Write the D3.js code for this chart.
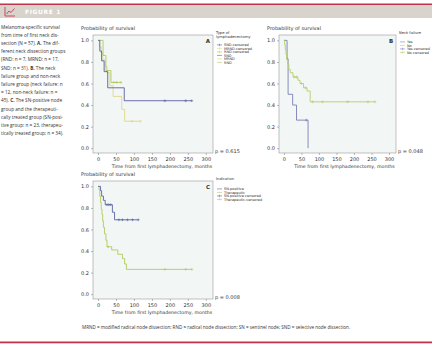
<!DOCTYPE html>
<html lang="en">
<head>
  <meta charset="UTF-8">
  <title>Figure 1</title>
  <script src="https://cdn.jsdelivr.net/npm/d3@7"></script>
  <style>
    body { margin: 0; background: #fff; }
    svg { display: block; }
    text { font-family: 'DejaVu Sans', sans-serif; }
    .cap { font-family: 'Open Sans', sans-serif; fill: #333; }
  </style>
</head>
<body>
<div id="app"></div>
<script>
  // axis ticks
  const xTicks = [0, 50, 100, 150, 200, 250, 300];
  const yTicks = [0, 0.2, 0.4, 0.6, 0.8, 1.0];

  // panel A - type of lymphadenectomy
  const sndSteps = [[0, 1], [5, 0.9], [10, 0.81], [17, 0.71], [27, 0.56], [73, 0.44]];
  const sndEnd = 261;
  const sndCensored = [186, 244, 261];
  const mrndSteps = [[0, 1], [4, 0.94], [9, 0.88], [13, 0.82], [20, 0.76], [25, 0.7], [33, 0.58], [42, 0.48], [66, 0.36], [74, 0.25]];
  const mrndEnd = 118;
  const mrndCensored = [95, 118];
  const rndSteps = [[0, 1], [14, 0.86], [22, 0.72], [36, 0.61]];
  const rndEnd = 64;
  const rndCensored = [44, 52, 64];

  // panel B - neck failure
  const yesSteps = [[0, 1], [9, 0.83], [12, 0.5], [25, 0.4], [36, 0.26], [69, 0]];
  const yesEnd = 69;
  const yesCensored = [64];
  const noSteps = [[0, 1], [2, 0.96], [4, 0.91], [6, 0.87], [8, 0.82], [11, 0.78], [14, 0.73], [18, 0.7], [26, 0.66], [40, 0.63], [46, 0.6], [56, 0.56], [66, 0.53], [75, 0.43]];
  const noEnd = 260;
  const noCensored = [30, 36, 50, 62, 82, 110, 182, 240, 260];

  // panel C - indication
  const snSteps = [[0, 1], [7, 0.96], [10, 0.91], [15, 0.87], [20, 0.83], [40, 0.76], [46, 0.69]];
  const snEnd = 112;
  const snCensored = [25, 30, 35, 58, 68, 82, 96, 112];
  const therSteps = [[0, 1], [3, 0.97], [5, 0.91], [7, 0.85], [9, 0.79], [11, 0.74], [13, 0.68], [15, 0.62], [18, 0.56], [22, 0.5], [25, 0.44], [38, 0.41], [55, 0.37], [68, 0.33], [74, 0.28], [79, 0.23]];
  const therEnd = 261;
  const therCensored = [28, 186, 244, 261];

  const captionLines = [
    'Melanoma-specific survival',
    'from time of first neck dis-',
    'section (N = 57). <b>A.</b> The dif-',
    'ferent neck dissection groups',
    '(RND: n = 7, MRND: n = 17,',
    'SND: n = 31). <b>B.</b> The neck',
    'failure group and non-neck',
    'failure group (neck failure: n',
    '= 12, non-neck failure: n =',
    '45). <b>C.</b> The SN-positive node',
    'group and the therapeuti-',
    'cally treated group (SN-posi-',
    'tive group: n = 23, therapeu-',
    'tically treated group; n = 34).'
  ];

  const W = 440, H = 346;
  const svg = d3.select('#app').append('svg').attr('width', W).attr('height', H);

  // header band
  svg.append('rect').attr('x', 0).attr('y', 5).attr('width', 432).attr('height', 13).attr('fill', '#d8d3cb');
  svg.append('rect').attr('x', 0).attr('y', 3.5).attr('width', 432).attr('height', 1.5).attr('fill', '#c0344c');
  const icon = svg.append('g').attr('transform', 'translate(5,7)');
  icon.append('path').attr('d', 'M0,0 V9 H10').attr('fill', 'none').attr('stroke', '#c84a62').attr('stroke-width', 1);
  icon.append('path').attr('d', 'M1.5,7 L4,4 L6,5.5 L9.5,1.5').attr('fill', 'none').attr('stroke', '#c84a62').attr('stroke-width', 1);
  svg.append('text').attr('x', 25).attr('y', 14).attr('font-size', 6).attr('font-weight', 'bold')
    .attr('letter-spacing', 0.6).attr('fill', '#fff').text('FIGURE 1');

  // bottom rule
  svg.append('rect').attr('x', 0).attr('y', 341.5).attr('width', 432).attr('height', 1.8).attr('fill', '#c0344c');

  // caption
  captionLines.forEach((l, i) => {
    const t = svg.append('text').attr('class', 'cap').attr('x', 1).attr('y', 28.5 + i * 8.2).attr('font-size', 4.7);
    l.split(/(<b>.*?<\/b>)/).forEach(part => {
      if (!part) return;
      const bold = part.startsWith('<b>');
      t.append('tspan').attr('font-weight', bold ? 'bold' : null).text(part.replace(/<\/?b>/g, ''));
    });
  });

  svg.append('text').attr('class', 'cap').attr('x', 82).attr('y', 329).attr('font-size', 4.6)
    .text('MRND = modified radical node dissection; RND = radical node dissection; SN = sentinel node; SND = selective node dissection.');

  function survAt(steps, t) {
    let s = 1;
    steps.forEach(d => { if (d[0] <= t) s = d[1]; });
    return s;
  }

  function panel(opt) {
    const x = d3.scaleLinear().domain([-14, 320]).range([opt.left, opt.right]);
    const y = d3.scaleLinear().domain([-0.045, 1.05]).range([opt.bottom, opt.top]);
    const g = svg.append('g');

    g.append('rect').attr('x', opt.left).attr('y', opt.top)
      .attr('width', opt.right - opt.left).attr('height', opt.bottom - opt.top)
      .attr('fill', '#f2f6f5');

    const clip = 'clip' + opt.letter;
    g.append('clipPath').attr('id', clip).append('rect')
      .attr('x', opt.left).attr('y', opt.top).attr('width', opt.right - opt.left).attr('height', opt.bottom - opt.top);

    const line = d3.line().x(d => x(d[0])).y(d => y(d[1])).curve(d3.curveStepAfter);
    const plot = g.append('g').attr('clip-path', `url(#${clip})`);
    opt.series.forEach(s => {
      const pts = s.steps.concat([[s.end, s.steps[s.steps.length - 1][1]]]);
      plot.append('path').attr('d', line(pts)).attr('fill', 'none')
        .attr('stroke', s.color).attr('stroke-width', 0.9);
      s.censored.forEach(c => {
        const cx = x(c), cy = y(survAt(s.steps, c));
        plot.append('path').attr('d', `M${cx - 1.4},${cy}H${cx + 1.4}M${cx},${cy - 1.4}V${cy + 1.4}`)
          .attr('stroke', s.color).attr('stroke-width', 0.6);
      });
    });

    g.append('rect').attr('x', opt.left).attr('y', opt.top)
      .attr('width', opt.right - opt.left).attr('height', opt.bottom - opt.top)
      .attr('fill', 'none').attr('stroke', '#9a9a9a').attr('stroke-width', 0.6);

    const xAxis = g.append('g').attr('transform', `translate(0,${opt.bottom})`)
      .call(d3.axisBottom(x).tickValues(xTicks).tickSize(2).tickPadding(2).tickFormat(d3.format('d')));
    const yAxis = g.append('g').attr('transform', `translate(${opt.left},0)`)
      .call(d3.axisLeft(y).tickValues(yTicks).tickSize(2).tickPadding(2).tickFormat(d3.format('.1f')));
    [xAxis, yAxis].forEach(a => {
      a.select('.domain').remove();
      a.selectAll('line').attr('stroke', '#777').attr('stroke-width', 0.5);
      a.selectAll('text').attr('font-size', 5).attr('fill', '#333').attr('font-family', "'DejaVu Sans', sans-serif");
    });

    g.append('text').attr('x', opt.left - 12).attr('y', opt.top - 5).attr('font-size', 5).attr('fill', '#333')
      .text('Probability of survival');
    g.append('text').attr('x', (opt.left + opt.right) / 2 + opt.titleShift).attr('y', opt.bottom + 15).attr('text-anchor', 'middle')
      .attr('font-size', 4.7).attr('fill', '#333').text('Time from first lymphadenectomy, months');
    g.append('text').attr('x', opt.right - 5).attr('y', opt.top + 8).attr('font-size', 5.5).attr('font-weight', 'bold')
      .attr('text-anchor', 'middle').attr('fill', '#333').text(opt.letter);
    g.append('text').attr('x', opt.right + 2).attr('y', opt.bottom).attr('font-size', 5).attr('fill', '#333')
      .text(opt.p);

    // legend
    const lg = g.append('g').attr('transform', `translate(${opt.right + 3},${opt.top})`);
    opt.legendTitle.forEach((t, i) => {
      lg.append('text').attr('x', 0).attr('y', -1 + i * 4).attr('font-size', 3.7).attr('fill', '#333').text(t);
    });
    opt.legend.forEach((e, i) => {
      const ly = opt.legendStart + i * 3.5;
      lg.append('line').attr('x1', 1).attr('x2', 6).attr('y1', ly - 1.1).attr('y2', ly - 1.1)
        .attr('stroke', e.color).attr('stroke-width', 0.6);
      if (e.censor) {
        lg.append('path').attr('d', `M3.5,${ly - 2.3}V${ly + 0.1}`).attr('stroke', e.color).attr('stroke-width', 0.5);
      }
      lg.append('text').attr('x', 8).attr('y', ly).attr('font-size', 3.5).attr('fill', '#333').text(e.label);
    });
  }

  const cSnd = '#5c5f9f', cMrnd = '#ddd98a', cRnd = '#b2ca5e';
  panel({
    letter: 'A', left: 93, right: 213, top: 35, bottom: 153, p: 'p = 0.615', titleShift: 9,
    legendTitle: ['Type of', 'lymphadenectomy'], legendStart: 11,
    legend: [
      { label: 'SND-censored', color: cSnd, censor: true },
      { label: 'MRND-censored', color: cMrnd, censor: true },
      { label: 'RND-censored', color: cRnd, censor: true },
      { label: 'SND', color: cSnd },
      { label: 'MRND', color: cMrnd },
      { label: 'RND', color: cRnd }
    ],
    series: [
      { steps: mrndSteps, end: mrndEnd, censored: mrndCensored, color: cMrnd },
      { steps: rndSteps, end: rndEnd, censored: rndCensored, color: cRnd },
      { steps: sndSteps, end: sndEnd, censored: sndCensored, color: cSnd }
    ]
  });

  const cYes = '#7a7fb8', cNo = '#b6cf6a';
  panel({
    letter: 'B', left: 279, right: 396, top: 35, bottom: 153, p: 'p = 0.048', titleShift: 7,
    legendTitle: ['Neck failure'], legendStart: 8,
    legend: [
      { label: 'Yes', color: cYes },
      { label: 'No', color: cNo },
      { label: 'Yes-censored', color: cYes, censor: true },
      { label: 'No-censored', color: cNo, censor: true }
    ],
    series: [
      { steps: yesSteps, end: yesEnd, censored: yesCensored, color: cYes },
      { steps: noSteps, end: noEnd, censored: noCensored, color: cNo }
    ]
  });

  const cSn = '#5a64a4', cTher = '#b0cc5c';
  panel({
    letter: 'C', left: 93, right: 213, top: 181, bottom: 299, p: 'p = 0.008', titleShift: 9,
    legendTitle: ['Indication'], legendStart: 9,
    legend: [
      { label: 'SN-positive', color: cSn },
      { label: 'Therapeutic', color: cTher },
      { label: 'SN-positive-censored', color: cSn, censor: true },
      { label: 'Therapeutic-censored', color: cTher, censor: true }
    ],
    series: [
      { steps: therSteps, end: therEnd, censored: therCensored, color: cTher },
      { steps: snSteps, end: snEnd, censored: snCensored, color: cSn }
    ]
  });
</script>
</body>
</html>
